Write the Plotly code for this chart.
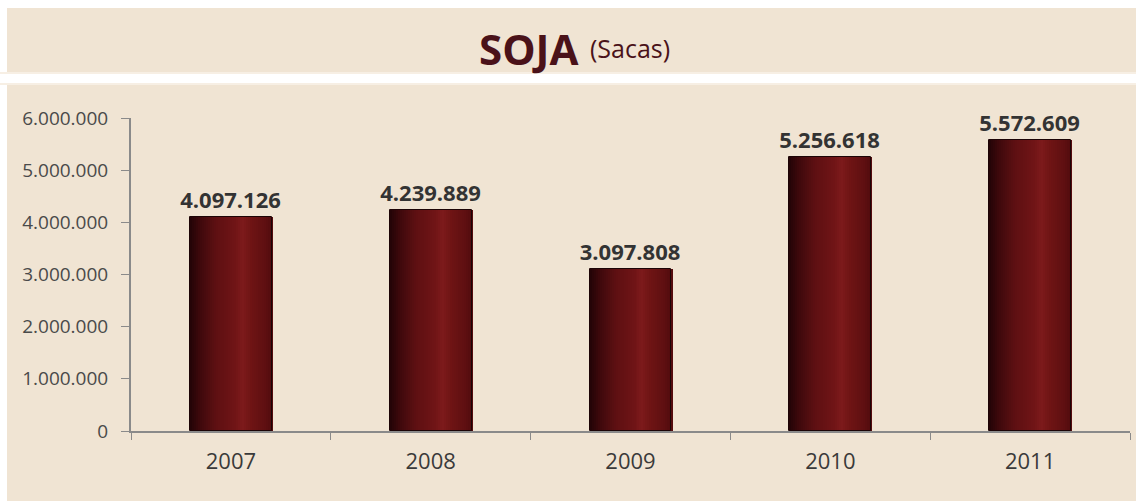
import plotly.graph_objects as go

# Soybean production (bags) per year
years = ["2007", "2008", "2009", "2010", "2011"]
sacas = [4097126, 4239889, 3097808, 5256618, 5572609]
y_ticks = [0, 1000000, 2000000, 3000000, 4000000, 5000000, 6000000]

BEIGE = "#f0e4d3"
W, H = 1136, 501
L, R, T, B = 131, 6, 118, 70
PW, PH = W - L - R, H - T - B


def px(x):
    return (x - L) / PW


def py(y):
    return (H - B - y) / PH


def lerp_color(stops, t):
    for (t0, c0), (t1, c1) in zip(stops, stops[1:]):
        if t0 <= t <= t1:
            f = (t - t0) / (t1 - t0) if t1 > t0 else 0
            a = [int(c0[i:i + 2], 16) for i in (1, 3, 5)]
            b = [int(c1[i:i + 2], 16) for i in (1, 3, 5)]
            return "rgb(%d,%d,%d)" % tuple(round(a[k] + (b[k] - a[k]) * f) for k in range(3))
    return stops[-1][1]


# horizontal shading across each bar (dark left edge, red body, lighter streak)
shade = [
    (0.0, "#220306"), (0.12, "#3e090c"), (0.32, "#5e1012"),
    (0.55, "#701416"), (0.64, "#7d1a1b"), (0.75, "#6e1414"),
    (0.92, "#5e0f11"), (1.0, "#520c0e"),
]

BAR_W = 0.41
N = 41
step = BAR_W / N

fig = go.Figure()
for i in range(N):
    fig.add_trace(go.Bar(
        x=years, y=sacas,
        width=step * 1.6, offset=-BAR_W / 2 + i * step,
        marker=dict(color=lerp_color(shade, (i + 0.5) / N), line=dict(width=0)),
        hoverinfo="skip", showlegend=False,
    ))

# outline + value labels
fig.add_trace(go.Bar(
    x=years, y=sacas, width=BAR_W,
    marker=dict(color="rgba(0,0,0,0)", line=dict(color="#1c0406", width=1)),
    texttemplate="%{y:,d}", textposition="outside", constraintext="none",
    textfont=dict(family="Open Sans", size=22, color="#333333", weight="bold"),
    cliponaxis=False, showlegend=False,
))

shapes = [
    # white frame pieces and separator strip
    dict(type="rect", xref="paper", yref="paper", x0=px(0), x1=px(7), y0=py(0), y1=py(H),
         fillcolor="white", line_width=0, layer="below"),
    dict(type="rect", xref="paper", yref="paper", x0=px(0), x1=px(W), y0=py(0), y1=py(8),
         fillcolor="white", line_width=0, layer="below"),
    dict(type="rect", xref="paper", yref="paper", x0=px(0), x1=px(W), y0=py(74), y1=py(83),
         fillcolor="white", line_width=0, layer="below"),
    dict(type="rect", xref="paper", yref="paper", x0=px(0), x1=px(W), y0=py(72), y1=py(74),
         fillcolor="#f7efe4", line_width=0, layer="below"),
    dict(type="rect", xref="paper", yref="paper", x0=px(0), x1=px(W), y0=py(83), y1=py(85),
         fillcolor="#f7efe4", line_width=0, layer="below"),
]

fig.update_layout(
    width=W, height=H,
    margin=dict(l=L, r=R, t=T, b=B, pad=0),
    paper_bgcolor=BEIGE, plot_bgcolor=BEIGE,
    barmode="overlay", bargap=0,
    separators=",.",
    shapes=shapes,
    annotations=[
        dict(xref="paper", yref="paper", x=px(580), y=py(49), xanchor="right", yanchor="middle",
             text="<b>SOJA</b>", showarrow=False,
             font=dict(family="Open Sans", size=42, color="#4a1219")),
        dict(xref="paper", yref="paper", x=px(588), y=py(48), xanchor="left", yanchor="middle",
             text="(Sacas)", showarrow=False,
             font=dict(family="Open Sans", size=25, color="#4a1219")),
    ],
    xaxis=dict(
        type="category", showgrid=False, zeroline=False,
        showline=True, linecolor="#8a8a8a", linewidth=2,
        ticks="outside", tickson="boundaries", ticklen=7, tickcolor="#8a8a8a", tickwidth=1,
        tickfont=dict(family="Open Sans", size=22, color="#3a3a3a"),
        ticklabelstandoff=10,
    ),
    yaxis=dict(
        range=[0, 6000000], tickvals=y_ticks, tickformat=",d",
        showgrid=False, zeroline=False,
        showline=True, linecolor="#8a8a8a", linewidth=2,
        ticks="outside", ticklen=8, tickcolor="#8a8a8a", tickwidth=1,
        tickfont=dict(family="Open Sans", size=19, color="#4a4a4a"),
        ticklabelstandoff=9,
    ),
)

fig.write_html("out.html")
